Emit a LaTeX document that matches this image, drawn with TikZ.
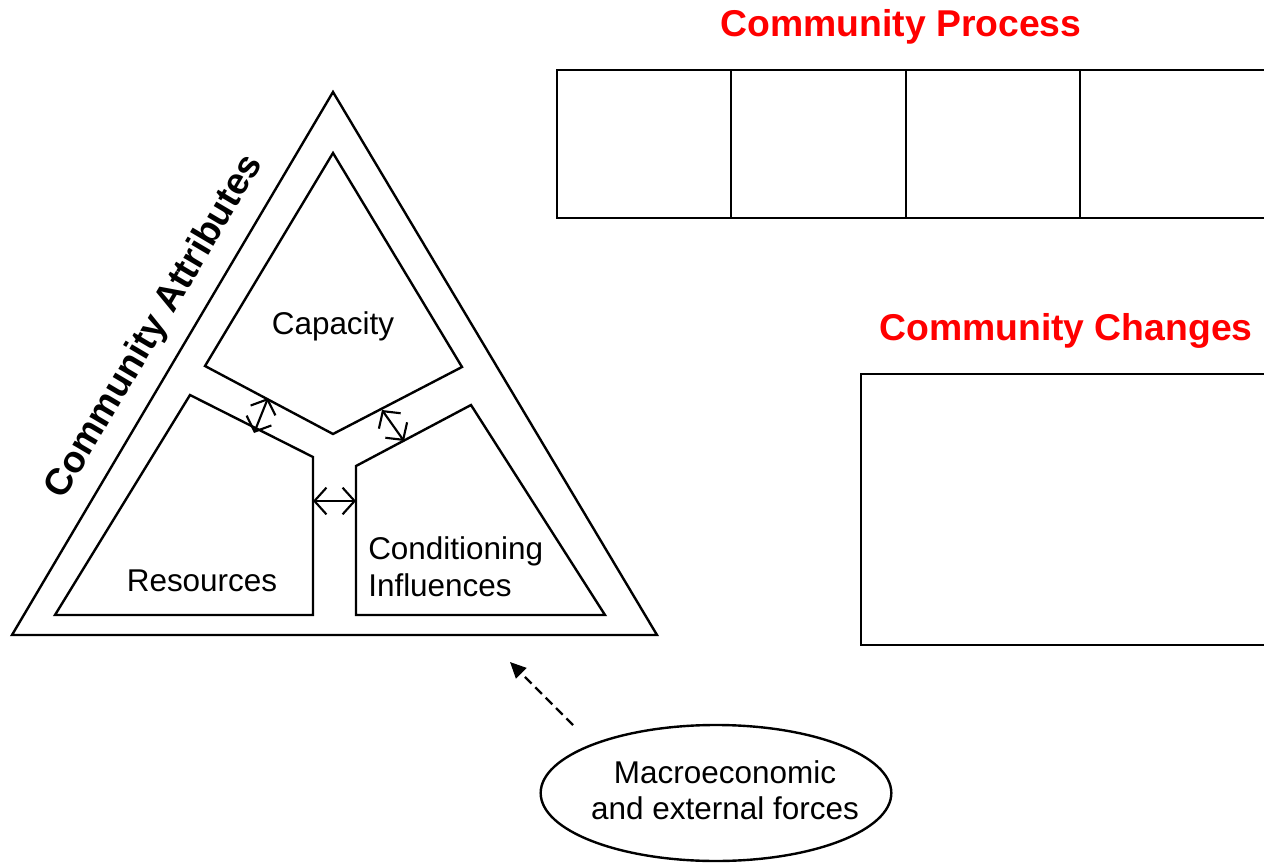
\documentclass[tikz,border=0pt]{standalone}
\usepackage{fontspec}
\setmainfont{Liberation Sans}
\usetikzlibrary{arrows.meta,shapes.geometric}
\definecolor{titlered}{RGB}{255,0,0}
\begin{document}
\begin{tikzpicture}[x=0.75pt,y=-0.75pt, line join=miter,
  shapeline/.style={draw=black, line width=1.8pt},
  title/.style={font=\fontsize{28}{33}\selectfont\bfseries, text=titlered, inner sep=0pt},
  sidetitle/.style={font=\fontsize{28}{33}\selectfont\bfseries, text=black, inner sep=0pt},
  lbl/.style={font=\fontsize{23.6}{27.75}\selectfont, inner sep=0pt, align=left},
  dbl/.style={line width=1.6pt, {Straight Barb[length=9pt,width=20pt]}-{Straight Barb[length=9pt,width=20pt]}},
  dasharrow/.style={line width=1.7pt, dash pattern=on 7pt off 4pt, -{Triangle[length=12pt,width=11pt]}},
  ]
\useasboundingbox (0,0) rectangle (1264,866);
% outer triangle
\coordinate (oA) at (333,92);
\coordinate (oL) at (12,635);
\coordinate (oR) at (657,635);
\draw[shapeline] (oA) -- (oL) -- (oR) -- cycle;
% inner shapes
\draw[shapeline] (333,153) -- (205,366) -- (333,434) -- (462,367) -- cycle;
\draw[shapeline] (190,395) -- (313,457) -- (313,615) -- (55,615) -- cycle;
\draw[shapeline] (356,615) -- (356,466) -- (471,405) -- (605,615) -- cycle;
% double arrows
\coordinate (a1s) at (268,398);
\coordinate (a1e) at (254,433);
\coordinate (a2s) at (382,410);
\coordinate (a2e) at (404,441);
\coordinate (a3s) at (313,501);
\coordinate (a3e) at (356,501);
\draw[dbl] (a1s) -- (a1e);
\draw[dbl] (a2s) -- (a2e);
\draw[dbl] (a3s) -- (a3e);
% labels
\node[lbl] (capacity) at (333,326) {Capacity};
\node[lbl] (resources) at (202,581) {Resources};
\node[lbl, anchor=west] (conditioning) at (368,567) {Conditioning\\Influences};
\node[title] (process) at (901,27) {Community Process};
\node[title] (changes) at (1066,331) {Community Changes};
\node[sidetitle, rotate=59.4] (attributes) at (155,327) {Community Attributes};
% boxes
\begin{scope}
\clip (0,0) rectangle (1264,866);
\draw[shapeline] (557,70) rectangle (731,218);
\draw[shapeline] (731,70) rectangle (906,218);
\draw[shapeline] (906,70) rectangle (1080,218);
\draw[shapeline] (1080,70) rectangle (1300,218);
\draw[shapeline] (861,374) rectangle (1300,645);
\end{scope}
% ellipse
\node[draw, ellipse, line width=1.8pt, minimum width=263pt, minimum height=102pt, inner sep=0pt] (forces) at (716,793) {};
\node[lbl, align=center, font=\fontsize{23.6}{27}\selectfont] (forcestext) at (725,790) {Macroeconomic\\and external forces};
% dashed arrow
\coordinate (dstart) at (573,725);
\coordinate (dend) at (510,662);
\draw[dasharrow] (dstart) -- (dend);
\end{tikzpicture}
\end{document}
